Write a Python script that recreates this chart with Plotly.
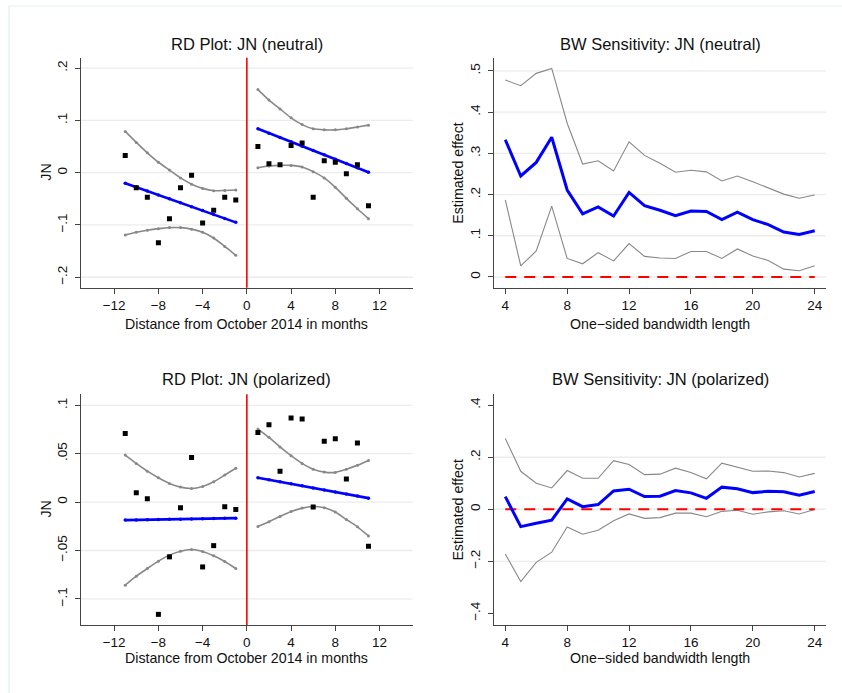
import plotly.graph_objects as go

# ---------------- data ----------------
months_left = [-11, -10, -9, -8, -7, -6, -5, -4, -3, -2, -1]
months_right = [1, 2, 3, 4, 5, 6, 7, 8, 9, 10, 11]
cutoff = 0

# RD plot: JN (neutral)
neu_bin_left = [0.033, -0.029, -0.047, -0.134, -0.088, -0.029, -0.005, -0.096, -0.072, -0.047, -0.052]
neu_bin_right = [0.050, 0.017, 0.015, 0.052, 0.057, -0.047, 0.023, 0.020, -0.002, 0.015, -0.063]
neu_fit_left = [-0.020, -0.0275, -0.035, -0.0425, -0.050, -0.0575, -0.065, -0.0725, -0.080, -0.0875, -0.095]
neu_fit_right = [0.084, 0.0757, 0.0674, 0.0591, 0.0508, 0.0425, 0.0342, 0.0259, 0.0176, 0.0093, 0.001]
neu_up_left = [0.079, 0.058, 0.038, 0.020, 0.005, -0.010, -0.022, -0.030, -0.0345, -0.034, -0.033]
neu_lo_left = [-0.119, -0.114, -0.110, -0.107, -0.105, -0.105, -0.108, -0.114, -0.125, -0.141, -0.158]
neu_up_right = [0.159, 0.139, 0.122, 0.105, 0.092, 0.084, 0.082, 0.082, 0.084, 0.0875, 0.091]
neu_lo_right = [0.0096, 0.0128, 0.014, 0.014, 0.011, 0.002, -0.010, -0.028, -0.049, -0.069, -0.088]

# RD plot: JN (polarized)
pol_bin_left = [0.071, 0.0097, 0.0034, -0.116, -0.0566, -0.0059, 0.046, -0.067, -0.045, -0.0048, -0.0076]
pol_bin_right = [0.072, 0.080, 0.032, 0.087, 0.086, -0.005, 0.063, 0.0655, 0.024, 0.061, -0.0455]
pol_fit_left = [-0.0186, -0.0184, -0.0182, -0.0180, -0.0178, -0.0176, -0.0174, -0.0172, -0.0170, -0.0168, -0.0166]
pol_fit_right = [0.0252, 0.0231, 0.0210, 0.0189, 0.0168, 0.0147, 0.0125, 0.0104, 0.0083, 0.0062, 0.0041]
pol_up_left = [0.0486, 0.040, 0.032, 0.0252, 0.0193, 0.0155, 0.0141, 0.0162, 0.021, 0.028, 0.035]
pol_lo_left = [-0.0859, -0.0766, -0.0686, -0.061, -0.0548, -0.0507, -0.049, -0.051, -0.0555, -0.0614, -0.0686]
pol_up_right = [0.0755, 0.0669, 0.057, 0.048, 0.040, 0.034, 0.031, 0.0307, 0.034, 0.038, 0.043]
pol_lo_right = [-0.0252, -0.0203, -0.0148, -0.0097, -0.0062, -0.0045, -0.0059, -0.0103, -0.018, -0.0255, -0.035]

# Bandwidth sensitivity
bandwidth = [4, 5, 6, 7, 8, 9, 10, 11, 12, 13, 14, 15, 16, 17, 18, 19, 20, 21, 22, 23, 24]
neu_est = [0.333, 0.245, 0.278, 0.339, 0.211, 0.153, 0.170, 0.148, 0.205, 0.173, 0.162, 0.149, 0.160,
           0.159, 0.139, 0.157, 0.139, 0.127, 0.109, 0.103, 0.112]
neu_ci_hi = [0.478, 0.464, 0.494, 0.506, 0.373, 0.274, 0.282, 0.257, 0.328, 0.295, 0.276, 0.254, 0.259,
             0.255, 0.233, 0.245, 0.231, 0.216, 0.201, 0.191, 0.199]
neu_ci_lo = [0.187, 0.027, 0.063, 0.172, 0.045, 0.032, 0.059, 0.039, 0.081, 0.050, 0.046, 0.045, 0.062,
             0.062, 0.045, 0.068, 0.051, 0.040, 0.019, 0.015, 0.027]
pol_est = [0.0487, -0.0667, -0.054, -0.042, 0.040, 0.010, 0.018, 0.0705, 0.077, 0.049, 0.050, 0.072, 0.063,
           0.042, 0.085, 0.079, 0.064, 0.069, 0.067, 0.054, 0.068]
pol_ci_hi = [0.272, 0.146, 0.100, 0.082, 0.149, 0.119, 0.119, 0.187, 0.172, 0.133, 0.135, 0.158, 0.141,
             0.117, 0.177, 0.162, 0.146, 0.147, 0.141, 0.124, 0.138]
pol_ci_lo = [-0.172, -0.278, -0.204, -0.165, -0.068, -0.096, -0.081, -0.044, -0.018, -0.035, -0.032, -0.015,
             -0.015, -0.029, -0.008, -0.004, -0.019, -0.010, -0.006, -0.018, -0.001]

# tick labels
rd_xticks = [-12, -8, -4, 0, 4, 8, 12]
rd_xlabels = ["\u221212", "\u22128", "\u22124", "0", "4", "8", "12"]
bw_xticks = [4, 8, 12, 16, 20, 24]
neu_rd_yticks = [-0.2, -0.1, 0, 0.1, 0.2]
neu_rd_ylabels = ["\u2212.2", "\u2212.1", "0", ".1", ".2"]
pol_rd_yticks = [-0.1, -0.05, 0, 0.05, 0.1]
pol_rd_ylabels = ["\u2212.1", "\u2212.05", "0", ".05", ".1"]
neu_bw_yticks = [0, 0.1, 0.2, 0.3, 0.4, 0.5]
neu_bw_ylabels = ["0", ".1", ".2", ".3", ".4", ".5"]
pol_bw_yticks = [-0.4, -0.2, 0, 0.2, 0.4]
pol_bw_ylabels = ["\u2212.4", "\u2212.2", "0", ".2", ".4"]
pol_bw_grid = [-0.2, 0, 0.2]

# ---------------- styling ----------------
W, H = 842, 693
FONT = "Liberation Sans, Arial, Helvetica, sans-serif"
BLUE = "#0000ff"
GRAY = "#888888"
RED = "#ff0000"
AX = "#444444"
GRID = "#ececec"


def px(x):
    return x / W


def py(y):
    return 1 - y / H


XL = [px(81), px(412.7)]
XR = [px(494), px(826)]
YT = [py(287.7), py(57.7)]
YB = [py(625), py(394.3)]

fig = go.Figure()


def rd_panel(n, bl, br, fl, fr, ul, ll, ur, lr):
    xa, ya = ("x", "y") if n == 1 else ("x%d" % n, "y%d" % n)
    for xs, ys in ((months_left, ul), (months_left, ll), (months_right, ur), (months_right, lr)):
        fig.add_trace(go.Scatter(x=xs, y=ys, mode="lines+markers", xaxis=xa, yaxis=ya,
                                 line=dict(color=GRAY, width=1.6, shape="spline", smoothing=0.6),
                                 marker=dict(color=GRAY, size=3), showlegend=False, hoverinfo="skip"))
    for xs, ys in ((months_left, fl), (months_right, fr)):
        fig.add_trace(go.Scatter(x=xs, y=ys, mode="lines+markers", xaxis=xa, yaxis=ya,
                                 line=dict(color=BLUE, width=2.6), marker=dict(color=BLUE, size=3.5),
                                 showlegend=False, hoverinfo="skip"))
    for xs, ys in ((months_left, bl), (months_right, br)):
        fig.add_trace(go.Scatter(x=xs, y=ys, mode="markers", xaxis=xa, yaxis=ya,
                                 marker=dict(color="black", size=5, symbol="square"),
                                 showlegend=False, hoverinfo="skip"))


def bw_panel(n, est, hi, lo):
    xa, ya = "x%d" % n, "y%d" % n
    for ys in (hi, lo):
        fig.add_trace(go.Scatter(x=bandwidth, y=ys, mode="lines", xaxis=xa, yaxis=ya,
                                 line=dict(color=GRAY, width=1.1), showlegend=False, hoverinfo="skip"))
    fig.add_trace(go.Scatter(x=[bandwidth[0], bandwidth[-1]], y=[0, 0], mode="lines", xaxis=xa, yaxis=ya,
                             line=dict(color=RED, width=1.8, dash="11px,8px"), showlegend=False,
                             hoverinfo="skip"))
    fig.add_trace(go.Scatter(x=bandwidth, y=est, mode="lines", xaxis=xa, yaxis=ya,
                             line=dict(color=BLUE, width=3), showlegend=False, hoverinfo="skip"))


rd_panel(1, neu_bin_left, neu_bin_right, neu_fit_left, neu_fit_right,
         neu_up_left, neu_lo_left, neu_up_right, neu_lo_right)
bw_panel(2, neu_est, neu_ci_hi, neu_ci_lo)
rd_panel(3, pol_bin_left, pol_bin_right, pol_fit_left, pol_fit_right,
         pol_up_left, pol_lo_left, pol_up_right, pol_lo_right)
bw_panel(4, pol_est, pol_ci_hi, pol_ci_lo)

tickfont = dict(family=FONT, size=13.5, color="#111111")


def xaxis(domain, anchor, rng, tv, tt):
    return dict(domain=domain, anchor=anchor, range=rng, tickvals=tv, ticktext=tt,
                showline=True, linecolor=AX, linewidth=1.3, ticks="outside", ticklen=5,
                tickcolor=AX, tickwidth=1.2, showgrid=False, zeroline=False, tickfont=tickfont,
                fixedrange=True)


def yaxis(domain, anchor, rng, tv, tt):
    return dict(domain=domain, anchor=anchor, range=rng, tickvals=tv, ticktext=tt,
                showline=True, linecolor=AX, linewidth=1.3, ticks="outside", ticklen=5,
                tickcolor=AX, tickwidth=1.2, showgrid=False, zeroline=False, tickfont=tickfont,
                tickangle=-90, ticklabelstandoff=2, fixedrange=True)


fig.update_layout(
    width=W, height=H, margin=dict(l=0, r=0, t=0, b=0),
    paper_bgcolor="white", plot_bgcolor="white",
    font=dict(family=FONT, color="#111111"),
    xaxis=xaxis(XL, "y", [-15, 15], rd_xticks, rd_xlabels),
    yaxis=yaxis(YT, "x", [-0.22, 0.22], neu_rd_yticks, neu_rd_ylabels),
    xaxis2=xaxis(XR, "y2", [3.27, 24.73], bw_xticks, [str(v) for v in bw_xticks]),
    yaxis2=yaxis(YT, "x2", [-0.026, 0.532], neu_bw_yticks, neu_bw_ylabels),
    xaxis3=xaxis(XL, "y3", [-15, 15], rd_xticks, rd_xlabels),
    yaxis3=yaxis(YB, "x3", [-0.127, 0.1114], pol_rd_yticks, pol_rd_ylabels),
    xaxis4=xaxis(XR, "y4", [3.27, 24.73], bw_xticks, [str(v) for v in bw_xticks]),
    yaxis4=yaxis(YB, "x4", [-0.445, 0.442], pol_bw_yticks, pol_bw_ylabels),
)

shapes = []
# gridlines (horizontal)
for n, vals in ((1, neu_rd_yticks), (2, neu_bw_yticks), (3, pol_rd_yticks), (4, pol_bw_grid)):
    xr = "x domain" if n == 1 else "x%d domain" % n
    yr = "y" if n == 1 else "y%d" % n
    for v in vals:
        shapes.append(dict(type="line", xref=xr, yref=yr, x0=0, x1=1, y0=v, y1=v,
                           line=dict(color=GRID, width=1.3), layer="below"))
# cutoff lines
for n in (1, 3):
    xr = "x" if n == 1 else "x%d" % n
    yr = "y domain" if n == 1 else "y%d domain" % n
    shapes.append(dict(type="line", xref=xr, yref=yr, x0=cutoff, x1=cutoff, y0=0, y1=1,
                       line=dict(color=RED, width=1.6), layer="above"))
# faint outer frame
shapes.append(dict(type="rect", xref="paper", yref="paper", x0=px(9), x1=1.2, y0=-0.2, y1=py(6),
                   line=dict(color="#e4eded", width=1.2), layer="below"))
fig.update_layout(shapes=shapes)

ann = []
titles = [("RD Plot: JN (neutral)", 246.9, 43.5), ("BW Sensitivity: JN (neutral)", 660, 43.5),
          ("RD Plot: JN (polarized)", 246.9, 379), ("BW Sensitivity: JN (polarized)", 660, 379)]
for t, x, y in titles:
    ann.append(dict(text=t, x=px(x), y=py(y), xref="paper", yref="paper", showarrow=False,
                    xanchor="center", yanchor="middle", font=dict(family=FONT, size=16.5, color="#111111")))
xtitles = [("Distance from October 2014 in months", 246.9, 323.5), ("One\u2212sided bandwidth length", 660, 323.5),
           ("Distance from October 2014 in months", 246.9, 658), ("One\u2212sided bandwidth length", 660, 658)]
for t, x, y in xtitles:
    ann.append(dict(text=t, x=px(x), y=py(y), xref="paper", yref="paper", showarrow=False,
                    xanchor="center", yanchor="middle", font=dict(family=FONT, size=14.2, color="#111111")))
ytitles = [("JN", 46, 172.7), ("Estimated effect", 458, 172.7), ("JN", 46, 509.6), ("Estimated effect", 458, 509.6)]
for t, x, y in ytitles:
    ann.append(dict(text=t, x=px(x), y=py(y), xref="paper", yref="paper", showarrow=False, textangle=-90,
                    xanchor="center", yanchor="middle", font=dict(family=FONT, size=14.2, color="#111111")))
fig.update_layout(annotations=ann)

fig.write_html("out.html")
